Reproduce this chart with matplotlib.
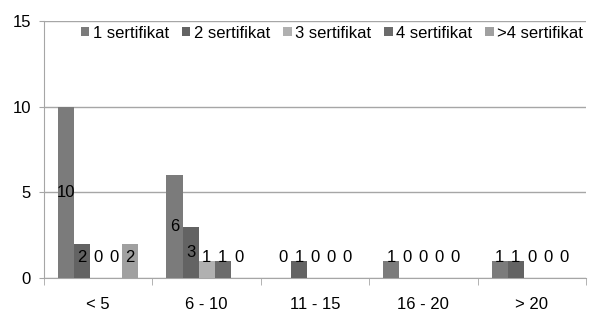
import numpy as np
import matplotlib.pyplot as plt

plt.rcParams['font.family'] = ['Liberation Sans', 'DejaVu Sans']

categories = ['< 5', '6 - 10', '11 - 15', '16 - 20', '> 20']
series_names = ['1 sertifikat', '2 sertifikat', '3 sertifikat', '4 sertifikat', '>4 sertifikat']
s1 = [10, 6, 0, 1, 1]
s2 = [2, 3, 1, 0, 1]
s3 = [0, 1, 0, 0, 0]
s4 = [0, 1, 0, 0, 0]
s5 = [2, 0, 0, 0, 0]
series = [s1, s2, s3, s4, s5]
colors = ['#7b7b7b', '#636363', '#b0b0b0', '#6b6b6b', '#a0a0a0']

fig = plt.figure(figsize=(5.95, 3.16), dpi=100)
ax = fig.add_axes([44/595, 1-278/316, (586-44)/595, (278-21)/316])

x = np.arange(len(categories))
w = 0.148
for i, vals in enumerate(series):
    pos = x - 2*w + i*w
    ax.bar(pos, vals, width=w, color=colors[i], label=series_names[i], zorder=3)
    for p, v in zip(pos, vals):
        # labels sit in the middle of the bar, but never lower than ~1.2
        ax.text(p, max(v/2, 1.2), str(v), ha='center', va='center', fontsize=12, zorder=4)

ax.set_xlim(-0.5, len(categories)-0.5)
ax.set_ylim(0, 15)
ax.set_yticks([0, 5, 10, 15])
ax.yaxis.grid(True, color='#a6a6a6', linewidth=1, zorder=0)
ax.set_xticks(x)
ax.set_xticklabels(categories, fontsize=12)
ax.set_xticks(np.arange(-0.5, len(categories)), minor=True)
ax.tick_params(axis='x', which='major', length=0, pad=14)
ax.tick_params(axis='x', which='minor', length=5, color='#a6a6a6', direction='out')
ax.tick_params(axis='y', length=3.5, color='#a6a6a6', labelsize=12, pad=6)
for s in ['top', 'right']:
    ax.spines[s].set_visible(False)
for s in ['left', 'bottom']:
    ax.spines[s].set_color('#a6a6a6')

ax.legend(loc='center left', bbox_to_anchor=(0.068, 1 - 12/257), ncol=5, frameon=False,
          fontsize=12, handlelength=0.5, handleheight=0.5, handletextpad=0.2,
          columnspacing=0.8, borderaxespad=0, borderpad=0)

fig.savefig('out.png')
